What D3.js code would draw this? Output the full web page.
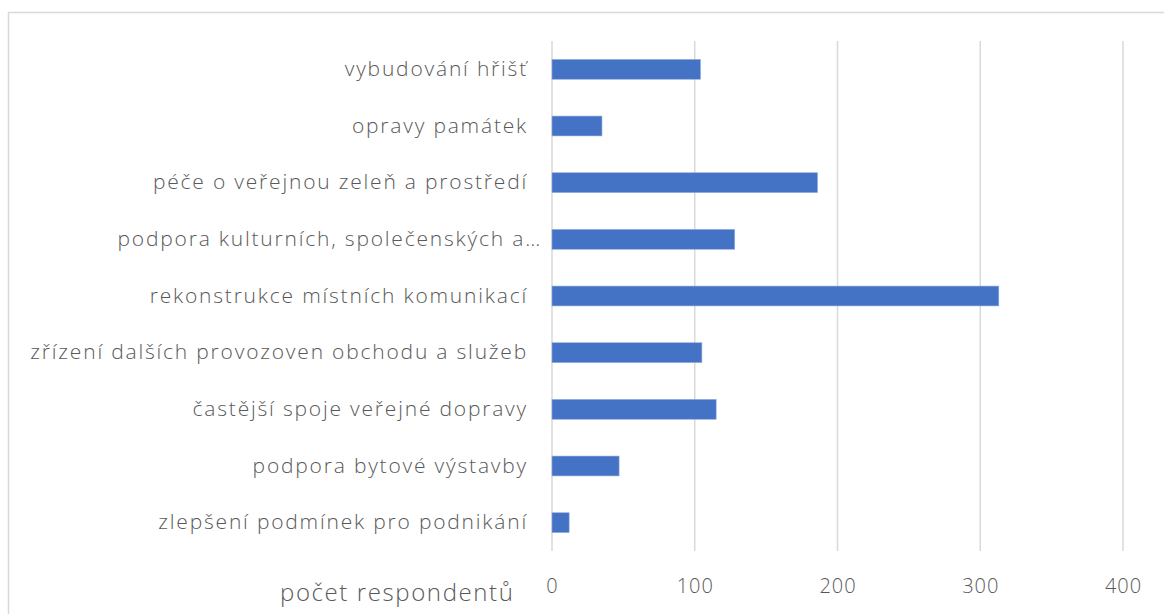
<!DOCTYPE html>
<html>
<head>
<meta charset="utf-8">
<script src="https://cdn.jsdelivr.net/npm/d3@7"></script>
<style>
    body { margin: 0; background: #fff; }
    .tick text { font-family: "Open Sans", "Noto Sans", sans-serif; font-weight: 300; fill: #595959; }
</style>
</head>
<body>
<div id="chart"></div>
<script>
// categories, top to bottom as shown
var categories = [
    "vybudování hřišť",
    "opravy památek",
    "péče o veřejnou zeleň a prostředí",
    "podpora kulturních, společenských a…",
    "rekonstrukce místních komunikací",
    "zřízení dalších provozoven obchodu a služeb",
    "častější spoje veřejné dopravy",
    "podpora bytové výstavby",
    "zlepšení podmínek pro podnikání"
];
var values = [104, 35, 186, 128, 313, 105, 115, 47, 12];
var xTicks = [0, 100, 200, 300, 400];
var axisTitle = "počet respondentů";

var width = 1164, height = 614;

var svg = d3.select("#chart")
    .append("svg")
    .attr("width", width)
    .attr("height", height);

//outer frame
svg.append("rect")
    .attr("x", 8.5)
    .attr("y", 12.5)
    .attr("width", 1200)
    .attr("height", 700)
    .attr("fill", "none")
    .attr("stroke", "#d9d9d9")
    .attr("stroke-width", 1.5);

//scales
var xScale = d3.scaleLinear().domain([0, 400]).range([552, 1123]);
var yScale = d3.scaleBand()
    .domain(categories)
    .range([41, 551])
    .paddingInner(0.65)
    .paddingOuter(0.325);

//gridlines
svg.append("g")
    .selectAll("line")
    .data(xTicks)
    .enter().append("line")
    .attr("x1", function (d) { return xScale(d); })
    .attr("x2", function (d) { return xScale(d); })
    .attr("y1", 41)
    .attr("y2", 551)
    .attr("stroke", "#d9d9d9")
    .attr("stroke-width", 1.5);

//bars
svg.append("g")
    .selectAll("rect")
    .data(values)
    .enter().append("rect")
    .attr("x", xScale(0))
    .attr("y", function (d, i) { return yScale(categories[i]); })
    .attr("width", function (d) { return xScale(d) - xScale(0); })
    .attr("height", yScale.bandwidth())
    .attr("fill", "#4472c4")
    .attr("stroke", "#8faadc")
    .attr("stroke-width", 0.6);

//x axis
var xAxis = d3.axisBottom(xScale).tickValues(xTicks).tickSize(0).tickPadding(0);
var gx = svg.append("g")
    .attr("transform", "translate(0,579)")
    .call(xAxis);
gx.select(".domain").remove();
gx.selectAll("text").attr("font-size", 20).attr("letter-spacing", 1).attr("dy", "0.71em");

//y axis labels
var yAxis = d3.axisLeft(yScale).tickSize(0).tickPadding(0);
var gy = svg.append("g")
    .attr("transform", "translate(528,0)")
    .call(yAxis);
gy.select(".domain").remove();
gy.selectAll("text")
    .attr("font-size", 21)
    .attr("letter-spacing", 1.8)
    .attr("x", function (d) { return d.indexOf("…") >= 0 ? 14 : 0; });

//axis title
svg.append("text")
    .attr("x", 280)
    .attr("y", 601)
    .attr("font-family", "'Open Sans', 'Noto Sans', sans-serif")
    .attr("font-weight", 300)
    .attr("font-size", 24)
    .attr("letter-spacing", 1.6)
    .attr("fill", "#595959")
    .text(axisTitle);
</script>
</body>
</html>
